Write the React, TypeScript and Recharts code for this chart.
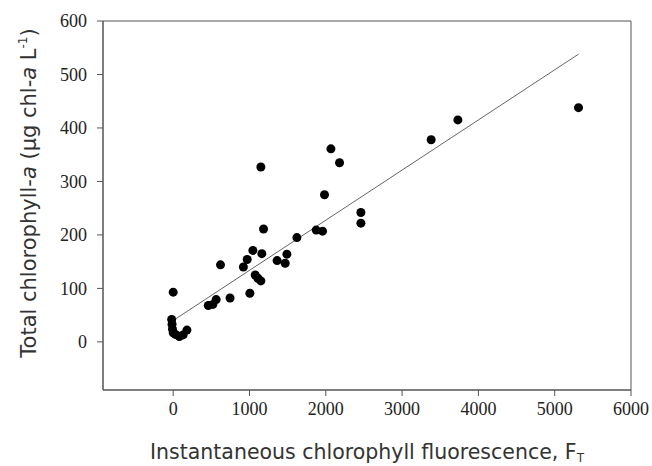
import { ScatterChart, Scatter, XAxis, YAxis, ReferenceArea } from 'recharts'

// Instantaneous fluorescence F_T vs total chlorophyll-a
const ftValues = [
  0, -20, -15, -10, 0, 30, 80, 130, 180, 460, 520, 563, 620, 745, 920, 970, 1005, 1044, 1075,
  1110, 1149, 1149, 1162, 1184, 1362, 1468, 1490, 1621, 1874, 1957, 1983, 2067, 2180, 2460, 2460,
  3381, 3731, 5312,
]
const chlValues = [
  93, 42, 33, 24, 17, 14, 10, 13, 22, 68, 70, 79, 144, 82, 140, 154, 91, 171, 125, 119, 114, 327,
  165, 211, 152, 147, 164, 195, 209, 207, 275, 361, 335, 242, 222, 378, 415, 438,
]
// end points of the fitted line
const fitX = [0, 5312]
const fitY = [40, 538]

const xTicks = [0, 1000, 2000, 3000, 4000, 5000, 6000]
const yTicks = [0, 100, 200, 300, 400, 500, 600]

const points = ftValues.map((x, i) => ({ x, y: chlValues[i] }))
const fitLine = fitX.map((x, i) => ({ x, y: fitY[i] }))

const AXIS = '#555'
const TITLE_FONT = '"DejaVu Sans", sans-serif'
const TICK_FONT = '"Liberation Serif", serif'

function XTitle({ viewBox }: any) {
  const cx = viewBox.x + viewBox.width / 2
  return (
    <text x={cx} y={459} textAnchor="middle" fontFamily={TITLE_FONT} fontSize={20.5} fill="#333">
      Instantaneous chlorophyll fluorescence, F
      <tspan fontSize={12} dy={3}>T</tspan>
    </text>
  )
}

function YTitle() {
  return (
    <text
      x={0}
      y={0}
      transform="translate(36,193) rotate(-90)"
      textAnchor="middle"
      fontFamily={TITLE_FONT}
      fontSize={21}
      fill="#333"
    >
      Total chlorophyll-<tspan fontStyle="italic">a</tspan> (µg chl-
      <tspan fontStyle="italic">a</tspan> L<tspan fontSize={12} dy={-9}>-1</tspan>
      <tspan dy={9}>)</tspan>
    </text>
  )
}

const Dot = (props: any) => <circle cx={props.cx} cy={props.cy} r={4.5} fill="#000" />

export default function App() {
  return (
    <div style={{ position: 'absolute', left: 0, top: 0, background: '#fff' }}>
      <ScatterChart width={652} height={466} margin={{ top: 21, right: 21, bottom: 0, left: 0 }}>
        <XAxis
          type="number"
          dataKey="x"
          domain={[-920, 6000]}
          ticks={xTicks}
          allowDataOverflow
          height={76}
          stroke={AXIS}
          tickSize={6}
          tickMargin={6}
          tick={{ fontFamily: TICK_FONT, fontSize: 18, fill: '#222' }}
          label={(p: any) => <XTitle {...p} />}
        />
        <YAxis
          type="number"
          dataKey="y"
          domain={[-90, 600]}
          ticks={yTicks}
          allowDataOverflow
          width={103}
          stroke={AXIS}
          tickSize={6}
          tickMargin={10}
          tick={{ fontFamily: TICK_FONT, fontSize: 18, fill: '#222' }}
          label={() => <YTitle />}
        />
        <ReferenceArea x1={-920} x2={6000} y1={-90} y2={600} fill="none" stroke={AXIS} strokeWidth={1} fillOpacity={0} />
        <Scatter
          data={fitLine}
          line={{ stroke: '#666', strokeWidth: 1 }}
          shape={() => <g />}
          isAnimationActive={false}
        />
        <Scatter data={points} shape={Dot} isAnimationActive={false} />
      </ScatterChart>
    </div>
  )
}
